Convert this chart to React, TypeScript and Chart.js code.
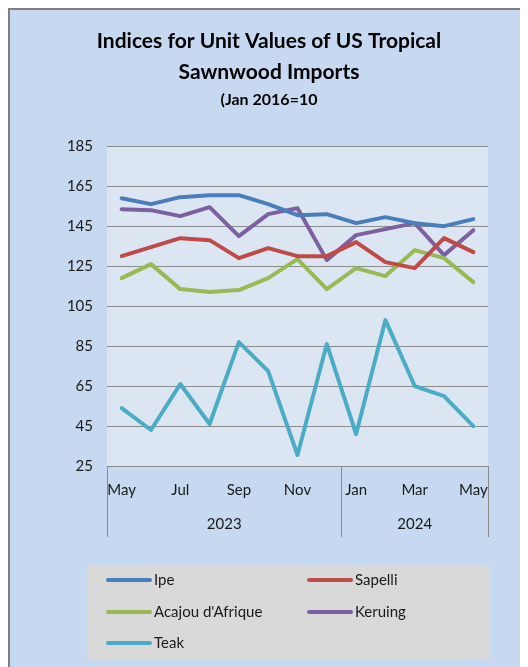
import React, { useEffect, useRef } from "react";
import { Chart, registerables } from "chart.js";

Chart.register(...registerables);

const months = ["May", "Jun", "Jul", "Aug", "Sep", "Oct", "Nov", "Dec", "Jan", "Feb", "Mar", "Apr", "May"];
const yearLabels = ["2023", "2024"];
const yearMonthCounts = [8, 5];

const ipe = [159, 156, 159.5, 160.5, 160.5, 156, 150.5, 151, 146.5, 149.5, 146.5, 145, 148.5];
const sapelli = [130, 134.5, 139, 138, 129, 134, 130, 130, 137, 127, 124, 139, 132];
const acajou = [119, 126, 113.5, 112, 113, 119, 128.5, 113.5, 124, 120, 133, 129, 117];
const keruing = [153.5, 153, 150, 154.5, 140, 151, 154, 128, 140.5, 143.5, 146.5, 130.5, 143];
const teak = [54, 43, 66, 46, 87, 72.5, 30.5, 86, 41, 98, 65, 60, 45];

const yMin = 25;
const yMax = 185;
const yStep = 20;

const FONT = "Lato";

const plotBg = {
  id: "plotBg",
  beforeDraw(chart: any) {
    const { ctx, chartArea } = chart;
    ctx.save();
    ctx.fillStyle = "#DCE6F2";
    ctx.fillRect(chartArea.left, chartArea.top, chartArea.right - chartArea.left, chartArea.bottom - chartArea.top);
    ctx.restore();
  },
};

const yearAxis = {
  id: "yearAxis",
  afterDraw(chart: any) {
    const { ctx, chartArea } = chart;
    const xs = chart.scales.x;
    const bottom = chartArea.bottom;
    const half = (xs.getPixelForValue(1) - xs.getPixelForValue(0)) / 2;
    ctx.save();
    ctx.strokeStyle = "#8c8c8c";
    ctx.lineWidth = 1;
    let idx = 0;
    const bounds: number[] = [chartArea.left];
    yearMonthCounts.forEach((c) => {
      idx += c;
      bounds.push(xs.getPixelForValue(idx - 1) + half);
    });
    bounds.forEach((bx) => {
      const px = Math.round(bx) + 0.5;
      ctx.beginPath();
      ctx.moveTo(px, bottom);
      ctx.lineTo(px, bottom + 71);
      ctx.stroke();
    });
    ctx.fillStyle = "#1a1a1a";
    ctx.font = `15px ${FONT}`;
    ctx.textAlign = "center";
    ctx.textBaseline = "middle";
    yearLabels.forEach((lab, i) => {
      ctx.fillText(lab, (bounds[i] + bounds[i + 1]) / 2, bottom + 58);
    });
    ctx.restore();
  },
};

const boxLegend = {
  id: "boxLegend",
  afterDraw(chart: any) {
    const { ctx } = chart;
    ctx.save();
    ctx.fillStyle = "#D9D9D9";
    ctx.fillRect(77, 555, 403, 94);
    const colX = [98, 299];
    const rowY = [570, 602, 633];
    ctx.font = `15px ${FONT}`;
    ctx.textBaseline = "middle";
    ctx.textAlign = "left";
    chart.data.datasets.forEach((ds: any, i: number) => {
      const x = colX[i % 2];
      const y = rowY[Math.floor(i / 2)];
      ctx.strokeStyle = ds.borderColor;
      ctx.lineWidth = 4;
      ctx.lineCap = "round";
      ctx.beginPath();
      ctx.moveTo(x, y);
      ctx.lineTo(x + 42, y);
      ctx.stroke();
      ctx.fillStyle = "#1a1a1a";
      ctx.fillText(ds.label, x + 46, y);
    });
    ctx.restore();
  },
};

export default function App() {
  const ref = useRef<HTMLCanvasElement>(null);
  useEffect(() => {
    document.documentElement.style.overflow = "hidden";
    document.body.style.overflow = "hidden";
    const mk = (label: string, data: number[], color: string) => ({
      label,
      data,
      borderColor: color,
      backgroundColor: color,
      borderWidth: 4,
      pointRadius: 0,
      tension: 0,
      borderCapStyle: "round" as const,
      borderJoinStyle: "round" as const,
    });
    const chart = new Chart(ref.current!, {
      type: "line",
      data: {
        labels: months,
        datasets: [
          mk("Ipe", ipe, "#4A7EBB"),
          mk("Sapelli", sapelli, "#BE4B48"),
          mk("Acajou d'Afrique", acajou, "#98B954"),
          mk("Keruing", keruing, "#7D60A0"),
          mk("Teak", teak, "#4BACC6"),
        ],
      },
      options: {
        animation: false,
        responsive: false,
        layout: { padding: { left: 0, right: 0, top: 0, bottom: 130 } },
        plugins: {
          legend: { display: false },
          tooltip: { enabled: false },
          title: {
            display: true,
            text: ["Indices for Unit Values of US Tropical", "Sawnwood Imports"],
            color: "#000",
            font: { family: FONT, size: 21, weight: "bold", lineHeight: 31 / 21 },
            padding: { top: 16, bottom: 2 },
          },
          subtitle: {
            display: true,
            text: "(Jan 2016=10",
            color: "#000",
            font: { family: FONT, size: 16, weight: "bold", lineHeight: 1.2 },
            padding: { top: 0, bottom: 37 },
          },
        },
        scales: {
          x: {
            type: "category",
            offset: true,
            grid: { display: false, drawTicks: false },
            border: { display: false },
            ticks: {
              autoSkip: false,
              maxRotation: 0,
              padding: 15,
              color: "#1a1a1a",
              font: { family: FONT, size: 15 },
              callback: (_v: any, i: number) => (i % 2 === 0 ? months[i] : ""),
            },
            afterFit: (s: any) => {
              s.height = 71;
            },
          },
          y: {
            min: yMin,
            max: yMax,
            grid: { color: "#8c8c8c", lineWidth: 1, drawTicks: false },
            border: { display: false },
            ticks: {
              stepSize: yStep,
              padding: 14,
              color: "#1a1a1a",
              font: { family: FONT, size: 15 },
            },
            afterFit: (s: any) => {
              s.width = 97;
            },
          },
          y2: {
            position: "right",
            display: true,
            grid: { display: false, drawTicks: false },
            border: { display: false },
            ticks: { display: false },
            afterFit: (s: any) => {
              s.width = 40;
            },
          },
        },
      },
      plugins: [plotBg, yearAxis, boxLegend],
    });
    return () => chart.destroy();
  }, []);
  return (
    <div
      style={{
        width: 520,
        height: 659,
        boxSizing: "border-box",
        borderTop: "2px solid #7f7f7f",
        borderLeft: "2px solid #7f7f7f",
        background: "#C6D9F1",
        overflow: "hidden",
      }}
    >
      <canvas ref={ref} width={518} height={657} style={{ display: "block", width: 518, height: 657 }} />
    </div>
  );
}
